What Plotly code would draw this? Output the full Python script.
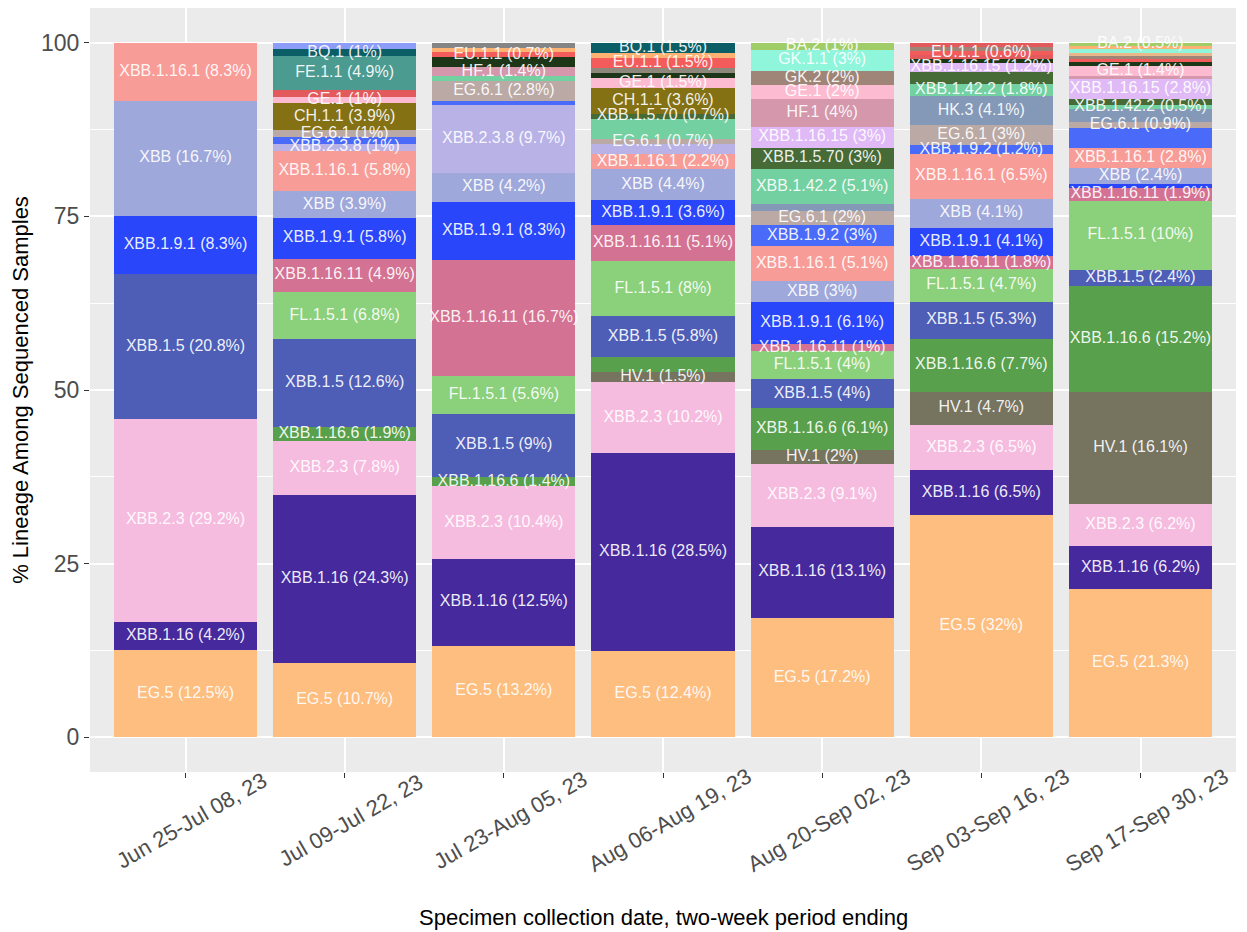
import plotly.graph_objects as go

periods = ["Jun 25-Jul 08, 23", "Jul 09-Jul 22, 23", "Jul 23-Aug 05, 23",
           "Aug 06-Aug 19, 23", "Aug 20-Sep 02, 23", "Sep 03-Sep 16, 23",
           "Sep 17-Sep 30, 23"]

# % of sequenced samples per lineage (None = not detected); listed bottom of stack first
EG_5        = [12.500, 10.680, 13.194, 12.409, 17.172, 31.953, 21.327]
XBB_1_16    = [4.167, 24.272, 12.500, 28.467, 13.131, 6.509, 6.161]
XBB_2_3     = [29.167, 7.767, 10.417, 10.219, 9.091, 6.509, 6.161]
HV_1        = [None, None, None, 1.460, 2.020, 4.734, 16.114]
XBB_1_16_6  = [None, 1.942, 1.389, 2.190, 6.061, 7.692, 15.166]
XBB_1_5     = [20.833, 12.621, 9.028, 5.839, 4.040, 5.325, 2.370]
FL_1_5_1    = [None, 6.796, 5.556, 8.029, 4.040, 4.734, 9.953]
XBB_1_16_11 = [None, 4.854, 16.667, 5.109, 1.010, 1.775, 1.896]
XBB_1_9_1   = [8.333, 5.825, 8.333, 3.650, 6.061, 4.142, 0.474]
XBB_        = [16.667, 3.883, 4.167, 4.380, 3.030, 4.142, 2.370]
XBB_1_16_1  = [8.333, 5.825, None, 2.190, 5.051, 6.509, 2.844]
XBB_2_3_8   = [None, 0.971, 9.722, 1.460, None, None, None]
XBB_1_9_2   = [None, 0.971, 0.694, None, 3.030, 1.183, 2.844]
EG_6_1      = [None, 0.971, 2.778, 0.730, 2.020, 2.959, 0.948]
HK_3        = [None, None, None, None, 1.010, 4.142, 1.896]
XBB_1_42_2  = [None, None, 0.694, 2.920, 5.051, 1.775, 0.474]
XBB_1_5_70  = [None, None, None, 0.730, 3.030, 1.775, 0.948]
XBB_1_16_15 = [None, None, None, None, 3.030, 1.183, 2.844]
HF_1        = [None, None, 1.389, None, 4.040, None, 0.474]
CH_1_1      = [None, 3.883, None, 3.650, None, None, None]
GE_1        = [None, 0.971, None, 1.460, 2.020, None, 1.422]
OTHER_A     = [None, None, 1.389, 0.730, None, 0.592, 0.474]
OTHER_B     = [None, None, None, 0.730, None, None, None]
OTHER_C     = [None, 0.971, None, None, None, 0.592, None]
EU_1_1      = [None, None, 0.694, 1.460, None, 0.592, 0.474]
GK_2        = [None, None, None, None, 2.020, 0.592, 0.474]
OTHER_D     = [None, None, None, None, None, None, 0.474]
GK_1_1      = [None, None, None, None, 3.030, None, 0.474]
OTHER_E     = [None, None, 0.694, 0.730, None, None, 0.474]
FE_1_1      = [None, 4.854, None, None, None, None, None]
BQ_1        = [None, 0.971, None, 1.460, None, None, None]
OTHER_F     = [None, 0.971, None, None, None, None, None]
OTHER_G     = [None, None, 0.694, None, None, None, None]
OTHER_H     = [None, None, None, None, None, 0.592, None]
BA_2        = [None, None, None, None, 1.010, None, 0.474]

lineages = [
    ("EG.5", EG_5), ("XBB.1.16", XBB_1_16), ("XBB.2.3", XBB_2_3), ("HV.1", HV_1),
    ("XBB.1.16.6", XBB_1_16_6), ("XBB.1.5", XBB_1_5), ("FL.1.5.1", FL_1_5_1),
    ("XBB.1.16.11", XBB_1_16_11), ("XBB.1.9.1", XBB_1_9_1), ("XBB", XBB_),
    ("XBB.1.16.1", XBB_1_16_1), ("XBB.2.3.8", XBB_2_3_8), ("XBB.1.9.2", XBB_1_9_2),
    ("EG.6.1", EG_6_1), ("HK.3", HK_3), ("XBB.1.42.2", XBB_1_42_2),
    ("XBB.1.5.70", XBB_1_5_70), ("XBB.1.16.15", XBB_1_16_15), ("HF.1", HF_1),
    ("CH.1.1", CH_1_1), ("GE.1", GE_1), ("Other a", OTHER_A), ("Other b", OTHER_B),
    ("Other c", OTHER_C), ("EU.1.1", EU_1_1), ("GK.2", GK_2), ("Other d", OTHER_D),
    ("GK.1.1", GK_1_1), ("Other e", OTHER_E), ("FE.1.1", FE_1_1), ("BQ.1", BQ_1),
    ("Other f", OTHER_F), ("Other g", OTHER_G), ("Other h", OTHER_H), ("BA.2", BA_2),
]

colors = {
    "EG.5": "#FEBE80", "XBB.1.16": "#45299D", "XBB.2.3": "#F6BCE0", "HV.1": "#76735F",
    "XBB.1.16.6": "#58A04C", "XBB.1.5": "#4E5EB7", "FL.1.5.1": "#8BD07A",
    "XBB.1.16.11": "#D47293", "XBB.1.9.1": "#2946FB", "XBB": "#9FA8DA",
    "XBB.1.16.1": "#F89C98", "XBB.2.3.8": "#B8B2E7", "XBB.1.9.2": "#4A6AFA",
    "EG.6.1": "#BAA9A5", "HK.3": "#8499B8", "XBB.1.42.2": "#73D0A1",
    "XBB.1.5.70": "#476B37", "XBB.1.16.15": "#DFBAF6", "HF.1": "#D497AB",
    "CH.1.1": "#847114", "GE.1": "#FCBBD1", "Other a": "#1E3618", "Other b": "#8E877C",
    "Other c": "#E25A5C", "EU.1.1": "#F45B5B", "GK.2": "#9E8577", "Other d": "#E9B88A",
    "GK.1.1": "#8FF6DC", "Other e": "#FDB172", "FE.1.1": "#4B9B91", "BQ.1": "#0C5E66",
    "Other f": "#8B9DF8", "Other g": "#858585", "Other h": "#E25A5C", "BA.2": "#A0CD68",
}

# segments whose label is not printed (period index, lineage)
hidden_labels = {
    (1, "XBB.1.9.2"), (1, "Other c"), (1, "Other f"),
    (2, "XBB.1.9.2"), (2, "XBB.1.42.2"), (2, "Other a"), (2, "Other e"), (2, "Other g"),
    (3, "XBB.1.16.6"), (3, "XBB.2.3.8"), (3, "XBB.1.42.2"), (3, "Other a"),
    (3, "Other b"), (3, "Other e"),
    (4, "HK.3"),
    (5, "XBB.1.5.70"), (5, "Other a"), (5, "Other c"), (5, "GK.2"), (5, "Other h"),
    (6, "XBB.1.9.1"), (6, "XBB.1.9.2"), (6, "HK.3"), (6, "XBB.1.5.70"), (6, "HF.1"),
    (6, "Other a"), (6, "EU.1.1"), (6, "GK.2"), (6, "Other d"), (6, "GK.1.1"),
    (6, "Other e"),
}


def fmt(v):
    s = f"{v:.1f}"
    return s[:-2] if s.endswith(".0") else s


FONT = "Liberation Sans, Arial, sans-serif"
fig = go.Figure()
cum = [0.0] * len(periods)
lx, ly, lt = [], [], []
for name, vals in lineages:
    fig.add_trace(go.Bar(
        x=periods, y=[v if v is not None else 0 for v in vals], name=name,
        marker=dict(color=colors[name], line=dict(width=0)),
        hovertemplate=name + ": %{y:.1f}%<extra></extra>",
    ))
    for i, v in enumerate(vals):
        if v is None:
            continue
        if (i, name) not in hidden_labels:
            lx.append(periods[i])
            ly.append(cum[i] + v / 2)
            lt.append(f"{name} ({fmt(v)}%)")
        cum[i] += v

fig.add_trace(go.Scatter(
    x=lx, y=ly, text=lt, mode="text", hoverinfo="skip", showlegend=False,
    textfont=dict(family=FONT, size=16, color="rgba(255,255,255,0.92)"),
))

# rotated category labels, centred under each tick (ggplot style)
annotations = [
    dict(x=p, y=0, xref="x", yref="paper", text=p, showarrow=False,
         textangle=-30, xanchor="center", yanchor="middle",
         xshift=6, yshift=-48, font=dict(family=FONT, size=22, color="#4D4D4D"))
    for p in periods
]
annotations.append(dict(
    x=0.5, y=0, xref="paper", yref="paper", showarrow=False,
    text="Specimen collection date, two-week period ending",
    xanchor="center", yanchor="middle", yshift=-145,
    font=dict(family=FONT, size=22, color="black"),
))

# the page places the figure 8px in from the window's top-left corner
fig.update_layout(
    barmode="stack", bargap=0.1, showlegend=False,
    width=1239, height=924,
    margin=dict(l=82, r=11, t=0, b=160),
    paper_bgcolor="white", plot_bgcolor="#EBEBEB",
    font=dict(family=FONT),
    annotations=annotations,
)
fig.update_xaxes(
    type="category", range=[-0.6, 6.6], automargin=False,
    showticklabels=False,
    showgrid=True, gridcolor="white", gridwidth=1.6,
    ticks="outside", ticklen=5, tickcolor="#333333",
    zeroline=False,
)
fig.update_yaxes(
    range=[-5, 105], tickvals=[0, 25, 50, 75, 100], automargin=False,
    showgrid=True, gridcolor="white", gridwidth=1.6,
    minor=dict(tickvals=[12.5, 37.5, 62.5, 87.5], showgrid=True,
               gridcolor="white", gridwidth=0.8),
    ticks="outside", ticklen=5, tickcolor="#333333",
    tickfont=dict(size=23, color="#4D4D4D"),
    title=dict(text="% Lineage Among Sequenced Samples",
               font=dict(size=22, color="black"), standoff=10),
    zeroline=False,
)

fig.write_html("out.html")
